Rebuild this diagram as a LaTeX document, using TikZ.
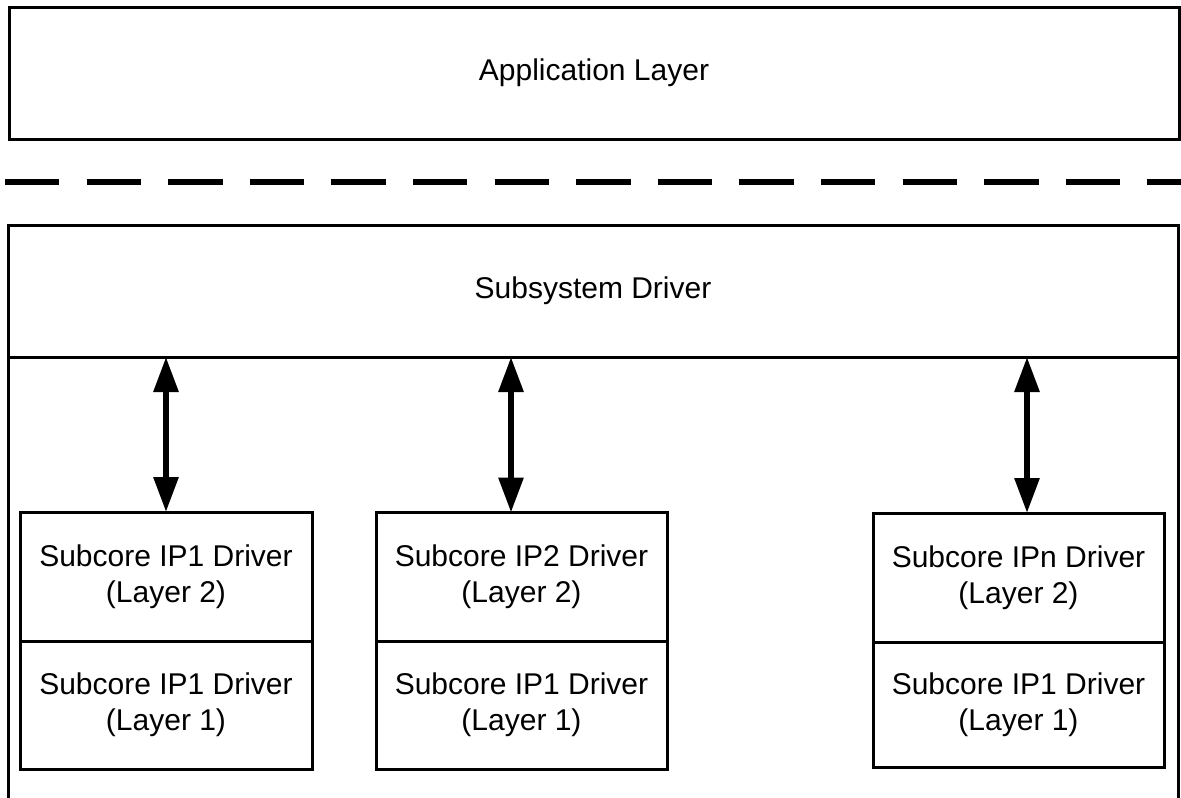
\documentclass[tikz,border=0pt]{standalone}
\usepackage{fontspec}
\setmainfont{Liberation Sans}
\usetikzlibrary{arrows.meta}
\tikzset{
  layerbox/.style={draw=black, line width=3pt, rectangle, inner sep=0pt, outer sep=0pt, align=center,
    font=\fontsize{30}{36}\selectfont},
  ipbox/.style={layerbox, minimum width=292pt, minimum height=129pt},
  biarrow/.style={line width=6pt, <->, >={Triangle[width=24pt,length=35pt]}},
  sepline/.style={line width=6.7pt, dash pattern=on 54.3pt off 27.3pt},
  outline/.style={line width=3pt}
}
\begin{document}
\begin{tikzpicture}[x=1pt,y=-1pt]
\useasboundingbox (0,0) rectangle (1181,798);
\fill[white] (0,0) rectangle (1181,798);
\clip (0,0) rectangle (1181,798);
% application layer
\node[layerbox, minimum width=1170pt, minimum height=132pt] (app) at (594,73) {Application Layer};
% separator
\coordinate (sepL) at (5,182);
\coordinate (sepR) at (1190,182);
\draw[sepline] (sepL) -- (sepR);
% subsystem driver
\node[layerbox, minimum width=1170pt, minimum height=132pt] (subsys) at (593,291) {Subsystem Driver};
\coordinate (subL) at (8,820);
\coordinate (subR) at (1178,820);
\draw[outline] (subsys.south west) -- (subL);
\draw[outline] (subsys.south east) -- (subR);
% subcore boxes
\node[ipbox, anchor=north] (ip1a) at (166,512) {Subcore IP1 Driver\\(Layer 2)};
\node[ipbox, anchor=north, minimum height=128pt] (ip1b) at (ip1a.south) {Subcore IP1 Driver\\(Layer 1)};
\node[ipbox, anchor=north, minimum width=291pt, minimum height=128.5pt] (ip2a) at (521.5,512.5) {Subcore IP2 Driver\\(Layer 2)};
\node[ipbox, anchor=north, minimum width=291pt, minimum height=128pt] (ip2b) at (ip2a.south) {Subcore IP1 Driver\\(Layer 1)};
\node[ipbox, anchor=north, minimum width=291pt] (ipna) at (1018.5,513) {Subcore IPn Driver\\(Layer 2)};
\node[ipbox, anchor=north, minimum width=291pt, minimum height=125pt] (ipnb) at (ipna.south) {Subcore IP1 Driver\\(Layer 1)};
% arrows
\coordinate (x1) at (166,0);
\coordinate (x2) at (511,0);
\coordinate (x3) at (1027,0);
\draw[biarrow] (subsys.south -| x1) -- (ip1a.north -| x1);
\draw[biarrow] (subsys.south -| x2) -- (ip2a.north -| x2);
\draw[biarrow] (subsys.south -| x3) -- (ipna.north -| x3);
\end{tikzpicture}
\end{document}
